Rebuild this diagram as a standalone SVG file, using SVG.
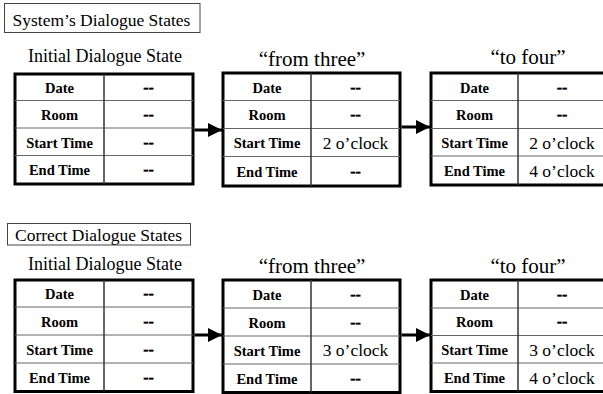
<svg xmlns="http://www.w3.org/2000/svg" width="603" height="394" viewBox="0 0 603 394">
  <defs>
    <style>
      text { font-family: "Liberation Serif", "Times New Roman", serif; fill: #000; }
      .caption { font-size: 17.5px; }
      .head { font-size: 18px; text-anchor: middle; }
      .quote { font-size: 21px; text-anchor: middle; }
      .lbl { font-size: 14.5px; font-weight: bold; text-anchor: middle; }
      .val { font-size: 17.5px; text-anchor: middle; }
      .dash { font-size: 16px; font-weight: bold; text-anchor: middle; stroke: #000; stroke-width: 0.4; }
      .capbox { fill: #fff; stroke: #444; stroke-width: 1; }
      .frame { fill: #fff; stroke: #000; stroke-width: 3; }
      .row { stroke: #666; stroke-width: 1; }
      .col { stroke: #333; stroke-width: 1.5; }
      .link { stroke: #000; stroke-width: 3; fill: none; }
    </style>
    <marker id="head" markerUnits="userSpaceOnUse" markerWidth="15" markerHeight="14" refX="14" refY="7" orient="auto">
      <path d="M0,0 L14,7 L0,14 Z" fill="#000"/>
    </marker>
  </defs>

  <rect width="603" height="394" fill="#fff"/>

  <!-- Upper section: the states the system tracked -->
  <g id="caption-system">
    <rect class="capbox" x="4.5" y="3.5" width="195.5" height="29"/>
    <text class="caption" x="12.5" y="26">System’s Dialogue States</text>
  </g>

  <g id="sys-initial">
    <text class="head" x="105" y="62">Initial Dialogue State</text>
    <rect class="frame" x="15" y="74" width="178" height="110"/>
    <line class="row" x1="15" y1="100.5" x2="193" y2="100.5"/>
    <line class="row" x1="15" y1="128" x2="193" y2="128"/>
    <line class="row" x1="15" y1="155.5" x2="193" y2="155.5"/>
    <line class="col" x1="104" y1="74" x2="104" y2="184"/>
    <text class="lbl" x="59.5" y="92.5">Date</text>
    <text class="lbl" x="59.5" y="120">Room</text>
    <text class="lbl" x="59.5" y="147.5">Start Time</text>
    <text class="lbl" x="59.5" y="175">End Time</text>
    <text class="dash" x="148.5" y="92.5">--</text>
    <text class="dash" x="148.5" y="120">--</text>
    <text class="dash" x="148.5" y="147.5">--</text>
    <text class="dash" x="148.5" y="175">--</text>
  </g>

  <g id="sys-from-three">
    <text class="quote" x="312" y="66">“from three”</text>
    <rect class="frame" x="223" y="73" width="177" height="113"/>
    <line class="row" x1="223" y1="100.5" x2="400" y2="100.5"/>
    <line class="row" x1="223" y1="128.5" x2="400" y2="128.5"/>
    <line class="row" x1="223" y1="156.5" x2="400" y2="156.5"/>
    <line class="col" x1="311" y1="73" x2="311" y2="186"/>
    <text class="lbl" x="267" y="92.5">Date</text>
    <text class="lbl" x="267" y="120">Room</text>
    <text class="lbl" x="267" y="148">Start Time</text>
    <text class="lbl" x="267" y="177">End Time</text>
    <text class="dash" x="355.5" y="92.5">--</text>
    <text class="dash" x="355.5" y="120">--</text>
    <text class="val" x="355.5" y="148.5">2 o’clock</text>
    <text class="dash" x="355.5" y="177">--</text>
  </g>

  <g id="sys-to-four">
    <text class="quote" x="528" y="64">“to four”</text>
    <rect class="frame" x="431" y="73" width="176" height="112"/>
    <line class="row" x1="431" y1="100.5" x2="607" y2="100.5"/>
    <line class="row" x1="431" y1="128.5" x2="607" y2="128.5"/>
    <line class="row" x1="431" y1="156" x2="607" y2="156"/>
    <line class="col" x1="518" y1="73" x2="518" y2="185"/>
    <text class="lbl" x="474.5" y="92.5">Date</text>
    <text class="lbl" x="474.5" y="120">Room</text>
    <text class="lbl" x="474.5" y="148">Start Time</text>
    <text class="lbl" x="474.5" y="176">End Time</text>
    <text class="dash" x="562" y="92.5">--</text>
    <text class="dash" x="562" y="120">--</text>
    <text class="val" x="562" y="148.5">2 o’clock</text>
    <text class="val" x="562" y="176.5">4 o’clock</text>
  </g>

  <!-- Lower section: the states that should have been tracked -->
  <g id="caption-correct">
    <rect class="capbox" x="7.5" y="223.5" width="183" height="21.5"/>
    <text class="caption" x="15" y="241">Correct Dialogue States</text>
  </g>

  <g id="ok-initial">
    <text class="head" x="105" y="270">Initial Dialogue State</text>
    <rect class="frame" x="15" y="280" width="178" height="111.5"/>
    <line class="row" x1="15" y1="307" x2="193" y2="307"/>
    <line class="row" x1="15" y1="335" x2="193" y2="335"/>
    <line class="row" x1="15" y1="363" x2="193" y2="363"/>
    <line class="col" x1="104" y1="280" x2="104" y2="391.5"/>
    <text class="lbl" x="59.5" y="299">Date</text>
    <text class="lbl" x="59.5" y="326.5">Room</text>
    <text class="lbl" x="59.5" y="354.5">Start Time</text>
    <text class="lbl" x="59.5" y="382.5">End Time</text>
    <text class="dash" x="148.5" y="299">--</text>
    <text class="dash" x="148.5" y="326.5">--</text>
    <text class="dash" x="148.5" y="354.5">--</text>
    <text class="dash" x="148.5" y="382.5">--</text>
  </g>

  <g id="ok-from-three">
    <text class="quote" x="312" y="273">“from three”</text>
    <rect class="frame" x="223" y="280" width="177" height="112.5"/>
    <line class="row" x1="223" y1="308" x2="400" y2="308"/>
    <line class="row" x1="223" y1="336" x2="400" y2="336"/>
    <line class="row" x1="223" y1="364" x2="400" y2="364"/>
    <line class="col" x1="311" y1="280" x2="311" y2="392.5"/>
    <text class="lbl" x="267" y="299.5">Date</text>
    <text class="lbl" x="267" y="327.5">Room</text>
    <text class="lbl" x="267" y="355.5">Start Time</text>
    <text class="lbl" x="267" y="384">End Time</text>
    <text class="dash" x="355.5" y="299.5">--</text>
    <text class="dash" x="355.5" y="327.5">--</text>
    <text class="val" x="355.5" y="356">3 o’clock</text>
    <text class="dash" x="355.5" y="384">--</text>
  </g>

  <g id="ok-to-four">
    <text class="quote" x="528" y="273">“to four”</text>
    <rect class="frame" x="431" y="280" width="176" height="111.5"/>
    <line class="row" x1="431" y1="308" x2="607" y2="308"/>
    <line class="row" x1="431" y1="335.5" x2="607" y2="335.5"/>
    <line class="row" x1="431" y1="363" x2="607" y2="363"/>
    <line class="col" x1="518" y1="280" x2="518" y2="391.5"/>
    <text class="lbl" x="474.5" y="299.5">Date</text>
    <text class="lbl" x="474.5" y="327">Room</text>
    <text class="lbl" x="474.5" y="355">Start Time</text>
    <text class="lbl" x="474.5" y="383">End Time</text>
    <text class="dash" x="562" y="299.5">--</text>
    <text class="dash" x="562" y="327">--</text>
    <text class="val" x="562" y="355.5">3 o’clock</text>
    <text class="val" x="562" y="383.5">4 o’clock</text>
  </g>

  <!-- Transitions between successive states -->
  <g id="connectors">
    <line class="link" x1="194.5" y1="130" x2="222" y2="130" marker-end="url(#head)"/>
    <line class="link" x1="401.5" y1="127" x2="430" y2="127" marker-end="url(#head)"/>
    <line class="link" x1="194.5" y1="335" x2="222" y2="335" marker-end="url(#head)"/>
    <line class="link" x1="401.5" y1="335" x2="430" y2="335" marker-end="url(#head)"/>
  </g>
</svg>
